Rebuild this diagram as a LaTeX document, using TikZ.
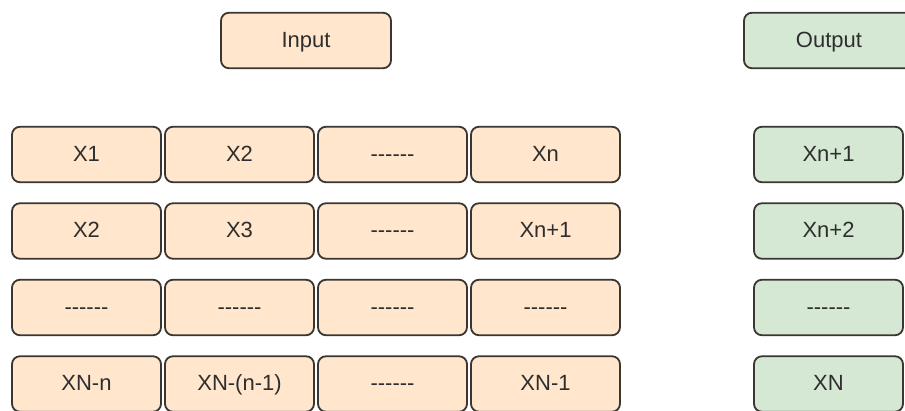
\documentclass[tikz,border=0pt]{standalone}
\usepackage{fontspec}
\setmainfont{Liberation Sans}[Ligatures=TeXOff]
\definecolor{inFill}{HTML}{FFE6CC}
\definecolor{outFill}{HTML}{D5E8D4}
\definecolor{boxLine}{HTML}{3A3632}
\definecolor{boxText}{HTML}{2E2E2E}
\begin{document}
\begin{tikzpicture}[x=1pt, y=-1pt,
	every node/.style={draw=boxLine, line width=1.8pt, rounded corners=8pt, text=boxText,
		inner sep=0pt, font=\fontsize{22}{26}\selectfont, text height=16pt, text depth=2pt},
	cell/.style={fill=inFill, minimum width=149pt, minimum height=55.5pt},
	outcell/.style={fill=outFill, minimum width=149pt, minimum height=55.5pt},
	head/.style={minimum width=170pt, minimum height=55.5pt}]
	\useasboundingbox (0, 0) rectangle (905, 411);
	\clip (0, 0) rectangle (905, 411);

	\node[head, fill=inFill]  at (306, 40.5) (In)  {Input};
	\node[head, fill=outFill] at (829, 40.5) (Out) {Output};

	\node[cell] at (86.5, 154.5) (A1) {X1};
	\node[cell] at (239.5, 154.5) (A2) {X2};
	\node[cell] at (392.5, 154.5) (A3) {------};
	\node[cell] at (545.5, 154.5) (A4) {Xn};
	\node[outcell] at (828.5, 154.5) (Y1) {Xn+1};

	\node[cell] at (86.5, 231) (B1) {X2};
	\node[cell] at (239.5, 231) (B2) {X3};
	\node[cell] at (392.5, 231) (B3) {------};
	\node[cell] at (545.5, 231) (B4) {Xn+1};
	\node[outcell] at (828.5, 231) (Y2) {Xn+2};

	\node[cell] at (86.5, 307.5) (C1) {------};
	\node[cell] at (239.5, 307.5) (C2) {------};
	\node[cell] at (392.5, 307.5) (C3) {------};
	\node[cell] at (545.5, 307.5) (C4) {------};
	\node[outcell] at (828.5, 307.5) (Y3) {------};

	\node[cell] at (86.5, 384) (D1) {XN-n};
	\node[cell] at (239.5, 384) (D2) {XN-(n-1)};
	\node[cell] at (392.5, 384) (D3) {------};
	\node[cell] at (545.5, 384) (D4) {XN-1};
	\node[outcell] at (828.5, 384) (Y4) {XN};
\end{tikzpicture}
\end{document}
